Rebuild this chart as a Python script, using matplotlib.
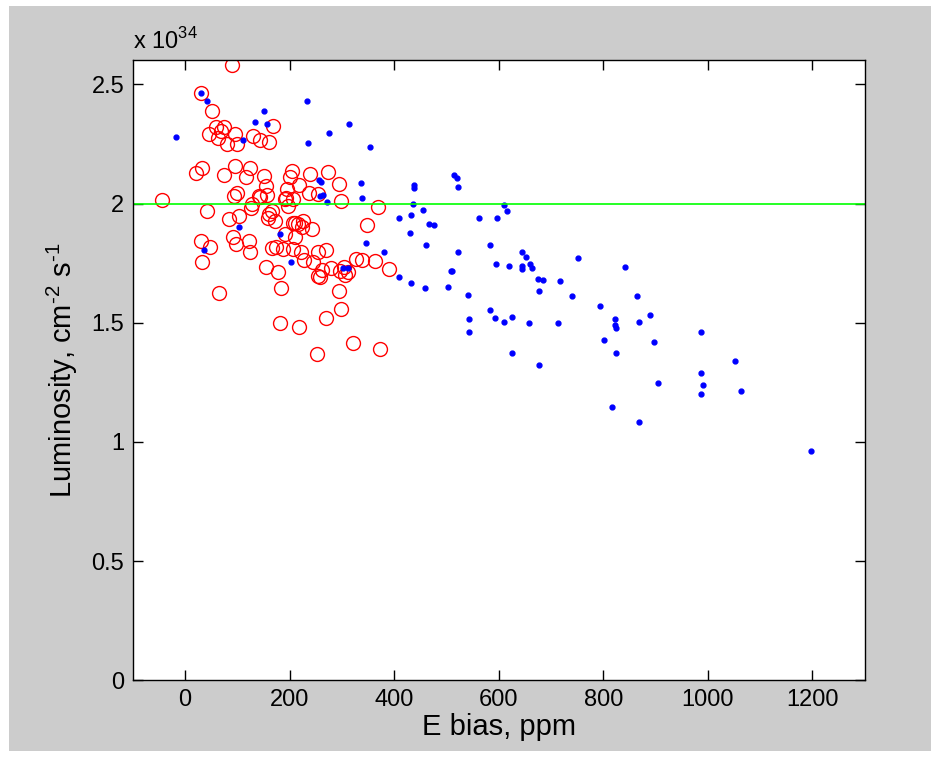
import numpy as np
import matplotlib.pyplot as plt
from matplotlib.patches import Rectangle

# E bias (ppm) and luminosity (x 1e34)
red_x = [89, 31, 51, 60, 45, 74, 69, 96, 63, 81, 99, 169, 130, 143, 160, -44, 21, 33, 74, 96,
         117, 125, 152, 154, 204, 200, 219, 240, 196, 238, 255, 99, 94, 142, 156, 191, 207, 273,
         294, 298, 370, 43, 85, 103, 92, 98, 122, 125, 31, 48, 33, 66, 128, 127, 144, 160, 166,
         158, 172, 167, 175, 187, 191, 207, 216, 226, 210, 207, 242, 221, 228, 245, 254, 255,
         155, 178, 183, 182, 219, 252, 194, 197, 348, 223, 270, 262, 279, 297, 305, 311, 306,
         327, 338, 363, 391, 259, 294, 298, 270, 322, 373, 210]
red_y = [2.58, 2.462, 2.388, 2.322, 2.29, 2.322, 2.304, 2.293, 2.274, 2.249, 2.249, 2.327, 2.282,
         2.265, 2.258, 2.016, 2.13, 2.148, 2.119, 2.158, 2.113, 2.148, 2.117, 2.074, 2.137, 2.112,
         2.078, 2.123, 2.06, 2.046, 2.04, 2.046, 2.032, 2.032, 2.036, 2.02, 2.018, 2.134, 2.083,
         2.011, 1.986, 1.969, 1.935, 1.948, 1.858, 1.83, 1.844, 1.795, 1.844, 1.819, 1.756, 1.625,
         1.997, 1.98, 2.028, 1.956, 1.969, 1.941, 1.927, 1.812, 1.819, 1.809, 1.874, 1.92, 1.914,
         1.928, 1.858, 1.809, 1.893, 1.795, 1.763, 1.753, 1.795, 1.697, 1.732, 1.711, 1.644, 1.5,
         1.481, 1.369, 2.025, 1.99, 1.91, 1.9, 1.805, 1.722, 1.728, 1.718, 1.732, 1.711, 1.70,
         1.767, 1.764, 1.76, 1.725, 1.693, 1.631, 1.558, 1.518, 1.415, 1.391, 1.92]

blue_x = [31, 43, -17, 152, 134, 156, 233, 236, 111, 257, 259, 313, 275, 354, 260, 336, 438, 438,
          515, 520, 523, 263, 272, 339, 436, 456, 103, 37, 182, 203, 410, 433, 466, 477, 431, 562,
          596, 347, 461, 584, 380, 523, 594, 302, 311, 508, 511, 410, 433, 459, 503, 541, 584,
          592, 543, 543, 610, 615, 645, 653, 645, 660, 664, 645, 620, 752, 842, 676, 684, 717,
          677, 740, 865, 794, 610, 625, 658, 713, 822, 822, 825, 868, 889, 802, 896, 625, 824,
          677, 904, 986, 1052, 986, 991, 986, 1063, 1198, 817, 868]
blue_y = [2.465, 2.43, 2.278, 2.387, 2.342, 2.335, 2.431, 2.255, 2.267, 2.099, 2.032, 2.335, 2.296,
          2.239, 2.092, 2.087, 2.077, 2.067, 2.12, 2.108, 2.07, 2.036, 2.008, 2.024, 1.996, 1.974,
          1.9, 1.807, 1.872, 1.753, 1.94, 1.95, 1.916, 1.911, 1.876, 1.939, 1.939, 1.833, 1.826,
          1.826, 1.798, 1.798, 1.746, 1.73, 1.73, 1.718, 1.718, 1.69, 1.668, 1.644, 1.65, 1.616,
          1.555, 1.52, 1.514, 1.459, 1.993, 1.967, 1.798, 1.774, 1.74, 1.746, 1.73, 1.724, 1.74,
          1.77, 1.735, 1.685, 1.678, 1.674, 1.633, 1.611, 1.611, 1.572, 1.502, 1.526, 1.497,
          1.497, 1.514, 1.492, 1.479, 1.503, 1.531, 1.429, 1.418, 1.373, 1.373, 1.322, 1.248,
          1.463, 1.338, 1.287, 1.237, 1.203, 1.214, 0.964, 1.146, 1.083]

lumi_target = 2.0

plt.rcParams['font.family'] = ['Liberation Sans', 'DejaVu Sans']
plt.rcParams['mathtext.fontset'] = 'custom'
plt.rcParams['mathtext.rm'] = 'Liberation Sans'

fig = plt.figure(figsize=(9.41, 7.57), dpi=100, facecolor='white')
fig.patches.append(Rectangle((9 / 941, 6 / 757), 922 / 941, 745 / 757, transform=fig.transFigure,
                             facecolor='#cccccc', edgecolor='none', zorder=-1))
ax = fig.add_axes([0.141, 0.1013, 0.778, 0.8188])

ax.plot(red_x, red_y, 'o', mfc='none', mec='red', ms=10, mew=1.0)
ax.plot(blue_x, blue_y, '.', color='blue', ms=7)
ax.axhline(lumi_target, color='#00ff00', lw=1.2)

ax.set_xlim(-100, 1300)
ax.set_ylim(0, 2.6)
ax.set_xticks(range(0, 1201, 200))
ax.set_yticks([0, 0.5, 1, 1.5, 2, 2.5])
ax.set_yticklabels(['0', '0.5', '1', '1.5', '2', '2.5'])
ax.tick_params(direction='in', top=True, right=True, labelsize=17, length=7, width=1, pad=6)
for s in ax.spines.values():
    s.set_linewidth(1)

ax.set_xlabel('E bias, ppm', fontsize=21, labelpad=2)
ax.set_ylabel(r'Luminosity, cm$^{\text{-2}}$ s$^{\text{-1}}$', fontsize=21, labelpad=8)
ax.text(0.0, 1.01, r'x 10$^{34}$', transform=ax.transAxes, fontsize=17, ha='left', va='bottom')

fig.savefig('out.png', dpi=100, facecolor=fig.get_facecolor())
